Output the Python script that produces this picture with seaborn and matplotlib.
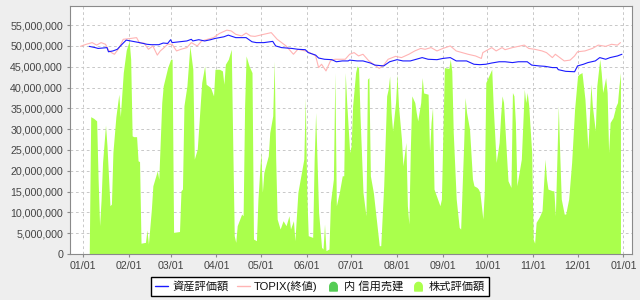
import numpy as np
import pandas as pd
import matplotlib
matplotlib.use("Agg")
import matplotlib.pyplot as plt
import matplotlib.dates as mdates
from matplotlib.ticker import FuncFormatter, MultipleLocator
from matplotlib.lines import Line2D
from matplotlib.path import Path
import seaborn as sns

# ---------------- data (values in millions of yen, days from 2013-01-01) -------------
stock_days = [4, 5, 7, 9, 10, 11, 12, 13, 15, 16, 18, 19, 20, 22, 24, 25, 27, 29, 31, 32, 33, 34, 36, 37, 38,
              39, 42, 43, 44, 46, 47, 50, 51, 53, 54, 57, 59, 60, 61, 65, 66, 67, 68, 70, 72, 74, 75, 77, 80,
              82, 83, 86, 88, 89, 92, 94, 95, 96, 98, 100, 101, 102, 103, 104, 107, 108, 109, 110, 112, 114,
              115, 117, 118, 120, 121, 122, 125, 126, 128, 129, 130, 131, 133, 135, 137, 139, 140, 142, 143,
              145, 147, 149, 150, 151, 152, 155, 156, 157, 159, 161, 162, 163, 164, 166, 167, 169, 170, 171,
              173, 175, 176, 177, 178, 180, 181, 182, 184, 185, 186, 187, 189, 191, 192, 193, 194, 196, 198,
              200, 201, 203, 205, 206, 207, 208, 209, 211, 212, 213, 215, 216, 218, 219, 220, 221, 222, 224,
              225, 226, 228, 229, 230, 233, 234, 235, 236, 237, 239, 241, 242, 244, 247, 248, 249, 250, 252,
              254, 255, 257, 258, 259, 261, 263, 264, 266, 267, 268, 270, 271, 272, 274, 276, 277, 279, 281,
              282, 283, 284, 286, 287, 289, 290, 291, 292, 293, 296, 298, 299, 300, 301, 303, 304, 305, 306,
              308, 310, 312, 313, 314, 317, 318, 319, 321, 322, 323, 325, 326, 328, 330, 332, 334, 335, 337,
              339, 341, 343, 344, 346, 347, 349, 350, 351, 353, 354, 355, 356, 358, 360, 361, 362, 363]
stock_values = [0, 33, 32.6, 32, 18, 6.8, 13, 22, 31, 26, 11.6, 12, 24.4, 33, 38.4, 33, 43.6, 49, 51.2, 46.8,
                28.4, 28.2, 28.2, 22.4, 22.2, 2.6, 2.8, 5.8, 2.4, 10.8, 16.4, 20, 18, 36.4, 40.4, 44.8, 46.8,
                46.8, 5.2, 5.4, 15.2, 15.6, 35.6, 40.4, 50, 44.4, 22.8, 25.2, 41.2, 45.2, 40.8, 40, 38, 44.4,
                44.4, 44, 40.8, 45.6, 46.8, 49.2, 26, 4.4, 2.8, 6.8, 9.6, 9.2, 35.6, 47.6, 45.2, 43.6, 3.6,
                3.2, 13.2, 24.4, 14.8, 19.6, 23.6, 29.2, 33.2, 46.4, 22.8, 8.4, 6, 8, 6.8, 9.2, 6, 8, 3.2,
                14.8, 18.8, 22.8, 37.6, 14.8, 4.4, 4, 22.8, 34, 10, 1.6, 1.2, 7.2, 0.8, 1.2, 12.4, 18, 43.6,
                11.6, 14.8, 18.8, 18.8, 43.6, 36.4, 24.4, 26, 35.6, 43.6, 45.2, 44.8, 33.2, 14.8, 9.2, 42,
                42.4, 18.8, 14.8, 8.4, 2, 2, 16.4, 38, 39.6, 42.8, 34, 29.6, 36.4, 43.2, 35.6, 27.6, 21.2,
                26.8, 11.6, 7.2, 25.2, 38, 36.4, 34, 32, 36.4, 42.4, 38.7, 38.4, 24.4, 31.6, 35.2, 15.6,
                13.6, 11.6, 13.2, 44.8, 44.6, 46.8, 44, 29.2, 13.2, 6.4, 6, 26, 37.6, 34, 30, 18, 16.4, 16,
                15.6, 14.8, 8.4, 15.2, 41.2, 42.8, 44.4, 35.6, 22, 26.8, 33.2, 38, 36.4, 23.6, 17.6, 16,
                38.8, 38, 31.6, 16.4, 22.8, 39.6, 36.4, 38.8, 35.6, 24.4, 3.6, 2.6, 7.6, 8.8, 10.4, 22.8,
                18, 15.6, 15.2, 15.2, 9.2, 35.6, 23.6, 13.2, 9.6, 9.6, 13.2, 22, 34.8, 42.8, 43.2, 43.6,
                37.2, 25.2, 40.8, 35.6, 29.6, 40.4, 46.8, 43.6, 38.8, 42.4, 38.8, 24.4, 31.6, 32.8, 35.6,
                36.4, 40.4, 43.6]

asset_days = [4, 8, 10, 13, 16, 17, 20, 23, 24, 27, 29, 32, 35, 38, 43, 46, 51, 54, 57, 59, 60, 65, 70, 73,
              74, 78, 82, 86, 89, 92, 95, 98, 103, 110, 114, 117, 122, 128, 130, 134, 141, 145, 150, 152,
              157, 159, 163, 168, 171, 175, 179, 180, 185, 189, 194, 197, 203, 207, 212, 216, 221, 225, 229,
              233, 239, 243, 248, 252, 259, 264, 268, 272, 276, 281, 285, 290, 294, 300, 303, 308, 312, 317,
              320, 321, 326, 332, 334, 338, 341, 346, 349, 353, 356, 361, 364]
asset_values = [49.9, 49.6, 49.4, 49.5, 49.6, 48.6, 48.8, 49.2, 49.6, 50.7, 51.4, 51.2, 51, 50.8, 50.4,
                50.3, 50.3, 50.7, 50.6, 51.5, 50.8, 51, 51.2, 51.6, 51.2, 51.5, 51.2, 51.5, 51.8, 52, 52.2,
                52.6, 52, 52, 51, 50.8, 50.8, 51.1, 50, 49.6, 49.4, 49.2, 49.1, 48.4, 47.8, 47.1, 46.8, 46.7,
                46.2, 46.4, 46.4, 46.6, 46.4, 46.4, 45.9, 45.4, 45.2, 46.2, 46.7, 46.4, 46.4, 46.8, 47.2,
                46.8, 46.7, 47, 47.2, 46.4, 46.4, 45.6, 45.5, 45.6, 45.9, 46.2, 46.2, 46, 46.2, 46.2, 45.4,
                45.2, 45.1, 44.8, 44.8, 44.3, 43.9, 43.8, 45.2, 45.6, 46, 46.4, 47.2, 46.8, 47.2, 47.6, 48]

topix_days = [-2, 2, 6, 9, 12, 15, 17, 19, 21, 24, 27, 32, 36, 38, 41, 44, 47, 50, 52, 54, 57, 60, 63, 66,
              70, 73, 77, 80, 84, 88, 92, 97, 100, 103, 107, 110, 113, 116, 122, 127, 131, 134, 137, 142,
              145, 150, 153, 157, 159, 161, 164, 167, 170, 174, 177, 180, 183, 186, 189, 193, 197, 200, 203,
              206, 211, 215, 220, 224, 228, 231, 235, 239, 243, 248, 252, 256, 260, 265, 269, 270, 272, 276,
              279, 283, 285, 290, 294, 298, 301, 305, 310, 313, 317, 319, 322, 325, 329, 332, 334, 339, 344,
              348, 353, 357, 361, 363]
topix_values = [49.9, 50.4, 50.8, 50.2, 50.8, 50.4, 49, 48.4, 48, 49.4, 51.6, 51.8, 52, 50.7, 50.7, 49.2,
                50, 47.8, 48.8, 49.4, 50.4, 50.4, 48.8, 49.2, 49.6, 50.8, 50, 51.2, 51.6, 52, 53, 53.8, 53.6,
                52.8, 52.4, 53.1, 52.4, 52.3, 52.8, 53.2, 51.6, 50.8, 50, 48, 49.2, 48.8, 48.4, 47.6, 44.8,
                45.6, 44, 46.4, 46.8, 46.8, 46.8, 48, 48.4, 47.6, 48, 46.4, 45.4, 44.6, 45.4, 46.8, 47.5,
                47.2, 48, 48.8, 49.4, 49.2, 49.6, 48.8, 49.4, 50, 48.8, 48.4, 48, 47.6, 47, 48.4, 48.8, 49.6,
                48.8, 49.6, 49.1, 49.6, 49.9, 50.2, 49.4, 49.2, 48.8, 48.4, 47.2, 48, 47.2, 46.4, 46.6, 47.6,
                48.6, 48.8, 49.4, 50.2, 49.9, 50.4, 50.2, 50.8]

series_labels = ["資産評価額", "TOPIX(終値)", "内 信用売建", "株式評価額"]
series_colors = ["#1a1aff", "#ffb4b4", "#55cc55", "#aaff4c"]

BASE = pd.Timestamp("2013-01-01")
UNIT = 1_000_000


def to_dates(days):
    return BASE + pd.to_timedelta(np.asarray(days, dtype=float), unit="D")


stock_df = pd.DataFrame({"date": to_dates(stock_days), "value": np.asarray(stock_values) * UNIT})
asset_df = pd.DataFrame({"date": to_dates(asset_days), "value": np.asarray(asset_values) * UNIT})
topix_df = pd.DataFrame({"date": to_dates(topix_days), "value": np.asarray(topix_values) * UNIT})

# ---------------- figure ----------------
sns.set_theme(style="white")
plt.rcParams["font.family"] = ["Liberation Sans", "Noto Sans CJK JP"]

fig = plt.figure(figsize=(6.4, 3.0), dpi=100, facecolor="#eeeeee")
ax = fig.add_axes([70 / 640, 1 - 254 / 300, (632 - 70) / 640, (254 - 6) / 300])
ax.set_facecolor("white")

ax.fill_between(stock_df["date"], 0, stock_df["value"], color=series_colors[3], linewidth=0, zorder=2)
sns.lineplot(data=topix_df, x="date", y="value", ax=ax, color=series_colors[1], linewidth=0.8,
             estimator=None, sort=False, legend=False, zorder=3)
sns.lineplot(data=asset_df, x="date", y="value", ax=ax, color=series_colors[0], linewidth=0.8,
             estimator=None, sort=False, legend=False, zorder=4)

ax.set_xlim(BASE - pd.Timedelta(days=9), BASE + pd.Timedelta(days=370.8))
ax.set_ylim(0, 59.6 * UNIT)
ax.yaxis.set_major_locator(MultipleLocator(5 * UNIT))
ax.yaxis.set_major_formatter(FuncFormatter(lambda v, p: f"{int(round(v)):,}"))
ax.xaxis.set_major_locator(mdates.MonthLocator())
ax.xaxis.set_major_formatter(mdates.DateFormatter("%m/%d"))
ax.set_xlabel("")
ax.set_ylabel("")

ax.grid(True, color="#c8c8c8", linewidth=0.7, linestyle=(0, (2.8, 2.8)), zorder=1)
ax.set_axisbelow(True)
for s in ax.spines.values():
    s.set_color("#8a8a8a")
    s.set_linewidth(0.8)
ax.tick_params(axis="both", which="major", length=2, width=0.8, color="#8a8a8a",
               labelsize=7.7, labelcolor="#444444", pad=3, direction="out",
               bottom=True, left=True)

# legend with dome-shaped markers for area series
theta = np.linspace(np.pi, 0, 16)
verts = [(-1, -1.2)] + list(zip(np.cos(theta), np.sin(theta) * 1.1)) + [(1, -1.2), (-1, -1.2)]
codes = [Path.MOVETO] + [Path.LINETO] * (len(verts) - 2) + [Path.CLOSEPOLY]
dome = Path(verts, codes)
handles = [
    Line2D([], [], color=series_colors[0], linewidth=1.0),
    Line2D([], [], color=series_colors[1], linewidth=1.0),
    Line2D([], [], color=series_colors[2], marker=dome, linestyle="None", markersize=6.5),
    Line2D([], [], color=series_colors[3], marker=dome, linestyle="None", markersize=6.5),
]
leg = fig.legend(handles, series_labels, loc="center", bbox_to_anchor=(0.5, 1 - 286.5 / 300),
                 ncol=4, fontsize=8.1, frameon=True, fancybox=False, edgecolor="black",
                 facecolor="white", framealpha=1, borderpad=0.35, handlelength=1.2,
                 handletextpad=0.35, columnspacing=0.75, borderaxespad=0)
leg.get_frame().set_linewidth(1.0)
for t in leg.get_texts():
    t.set_color("#111111")

fig.savefig("out.png", dpi=100, facecolor=fig.get_facecolor())
